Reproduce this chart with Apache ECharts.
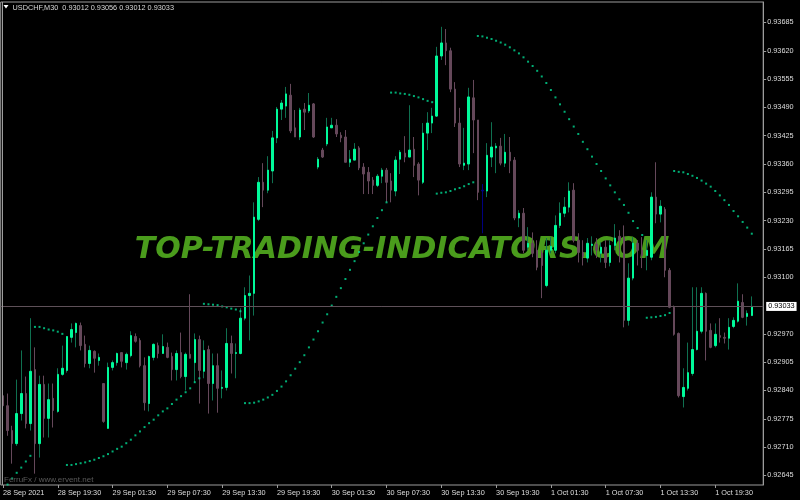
<!DOCTYPE html>
<html><head><meta charset="utf-8">
<script src="https://cdn.jsdelivr.net/npm/echarts@6/dist/echarts.min.js"></script>
<style>html,body{margin:0;padding:0;background:#000}#c{width:800px;height:500px}</style>
</head><body><div id="c"></div>
<script>
const symbolName = 'USDCHF,M30';
const lastQuote = ['0.93012', '0.93056', '0.93012', '0.93033'];
const watermark = 'TOP-TRADING-INDICATORS.COM';
const credit = 'FerruFx / www.ervent.net';
const timeTicks = ['28 Sep 2021','28 Sep 19:30','29 Sep 01:30','29 Sep 07:30','29 Sep 13:30','29 Sep 19:30','30 Sep 01:30','30 Sep 07:30','30 Sep 13:30','30 Sep 19:30','1 Oct 01:30','1 Oct 07:30','1 Oct 13:30','1 Oct 19:30'];
const priceTicks = [0.93685,0.93620,0.93555,0.93490,0.93425,0.93360,0.93295,0.93230,0.93165,0.93100,0.92970,0.92905,0.92840,0.92775,0.92710,0.92645];
const currentPrice = 0.93033;
const navyBars = [105];

const open = [0.92828,0.92805,0.92748,0.92718,0.92787,0.92833,0.92764,0.92888,0.92718,0.92854,
0.92776,0.92822,0.92792,0.92877,0.92886,0.92962,0.92973,0.92989,0.92946,0.92902,
0.92930,0.92909,0.92856,0.92753,0.92893,0.92904,0.92927,0.92904,0.92920,0.92964,
0.92955,0.92897,0.92810,0.92916,0.92943,0.92925,0.92939,0.92918,0.92888,0.92927,
0.92872,0.92923,0.92904,0.92957,0.92884,0.92934,0.92856,0.92897,0.92845,0.92847,
0.92948,0.92925,0.92925,0.93006,0.93058,0.93063,0.93233,0.93318,0.93300,0.93344,
0.93420,0.93486,0.93493,0.93518,0.93443,0.93422,0.93486,0.93482,0.93498,0.93353,
0.93392,0.93406,0.93443,0.93449,0.93426,0.93422,0.93364,0.93369,0.93397,0.93353,
0.93341,0.93323,0.93311,0.93332,0.93346,0.93321,0.93298,0.93371,0.93385,0.93376,
0.93394,0.93360,0.93318,0.93431,0.93454,0.93470,0.93608,0.93638,0.93620,0.93532,
0.93454,0.93357,0.93360,0.93512,0.93461,0.93300,0.93298,0.93376,0.93397,0.93401,
0.93362,0.93387,0.93369,0.93236,0.93247,0.93169,0.93178,0.93162,0.93155,0.93081,
0.93162,0.93162,0.93219,0.93247,0.93261,0.93300,0.93185,0.93157,0.93144,0.93173,
0.93176,0.93155,0.93169,0.93134,0.93173,0.93194,0.93192,0.93001,0.93098,0.93178,
0.93162,0.93150,0.93146,0.93284,0.93245,0.93256,0.93116,0.93031,0.92971,0.92826,
0.92845,0.92879,0.92934,0.92976,0.93063,0.92978,0.92943,0.92966,0.92962,0.92960,
0.92987,0.92999,0.93042,0.93010,0.93012];

const close = [0.92805,0.92748,0.92718,0.92787,0.92833,0.92764,0.92884,0.92718,0.92854,0.92776,
0.92819,0.92794,0.92877,0.92891,0.92964,0.92980,0.92994,0.92943,0.92902,0.92932,
0.92914,0.92916,0.92769,0.92893,0.92904,0.92925,0.92907,0.92923,0.92966,0.92953,
0.92897,0.92812,0.92918,0.92946,0.92925,0.92941,0.92916,0.92888,0.92925,0.92872,
0.92923,0.92914,0.92957,0.92886,0.92932,0.92856,0.92897,0.92845,0.92847,0.92948,
0.92925,0.92927,0.93006,0.93058,0.93063,0.93238,0.93318,0.93300,0.93346,0.93420,
0.93486,0.93500,0.93521,0.93436,0.93422,0.93484,0.93479,0.93495,0.93422,0.93371,
0.93376,0.93445,0.93449,0.93429,0.93420,0.93364,0.93371,0.93394,0.93351,0.93337,
0.93321,0.93311,0.93332,0.93346,0.93318,0.93300,0.93369,0.93387,0.93376,0.93392,
0.93357,0.93323,0.93431,0.93454,0.93470,0.93608,0.93638,0.93620,0.93532,0.93454,
0.93360,0.93362,0.93514,0.93461,0.93295,0.93298,0.93380,0.93399,0.93401,0.93362,
0.93387,0.93367,0.93236,0.93247,0.93162,0.93178,0.93155,0.93123,0.93127,0.93162,
0.93171,0.93219,0.93247,0.93261,0.93298,0.93185,0.93157,0.93148,0.93178,0.93176,
0.93162,0.93169,0.93134,0.93173,0.93190,0.93185,0.93001,0.93098,0.93178,0.93162,
0.93150,0.93162,0.93284,0.93245,0.93263,0.93116,0.93031,0.92969,0.92828,0.92847,
0.92881,0.92934,0.92976,0.93063,0.92976,0.92939,0.92969,0.92962,0.92960,0.92985,
0.93001,0.93045,0.93008,0.93017,0.93033];

const high = [0.92874,0.92833,0.92759,0.92865,0.92932,0.92872,0.93006,0.92939,0.92874,0.92874,
0.92856,0.92856,0.92891,0.92943,0.92964,0.92994,0.92996,0.92996,0.92966,0.92943,
0.92932,0.92925,0.92856,0.92904,0.92909,0.92927,0.92927,0.92927,0.92976,0.92971,
0.92960,0.92916,0.92920,0.92948,0.92950,0.92969,0.92950,0.92927,0.92932,0.92973,
0.92927,0.93061,0.92971,0.92966,0.92955,0.92943,0.92925,0.92925,0.92886,0.92983,
0.92966,0.92948,0.93029,0.93077,0.93104,0.93272,0.93330,0.93362,0.93378,0.93436,
0.93491,0.93507,0.93537,0.93544,0.93484,0.93489,0.93500,0.93523,0.93500,0.93376,
0.93397,0.93466,0.93466,0.93463,0.93433,0.93438,0.93392,0.93408,0.93401,0.93362,
0.93353,0.93330,0.93337,0.93351,0.93351,0.93339,0.93378,0.93392,0.93424,0.93495,
0.93422,0.93364,0.93454,0.93479,0.93489,0.93629,0.93675,0.93670,0.93627,0.93548,
0.93489,0.93443,0.93535,0.93553,0.93461,0.93314,0.93408,0.93456,0.93408,0.93420,
0.93429,0.93422,0.93376,0.93254,0.93259,0.93215,0.93203,0.93185,0.93162,0.93190,
0.93192,0.93242,0.93272,0.93284,0.93318,0.93316,0.93201,0.93185,0.93190,0.93194,
0.93190,0.93180,0.93185,0.93185,0.93222,0.93208,0.93219,0.93132,0.93192,0.93185,
0.93192,0.93185,0.93295,0.93364,0.93277,0.93261,0.93121,0.93035,0.92973,0.92891,
0.92950,0.93077,0.93077,0.93077,0.93065,0.92994,0.92994,0.93006,0.92973,0.93006,
0.93008,0.93086,0.93061,0.93024,0.93056];

const low = [0.92771,0.92736,0.92672,0.92713,0.92771,0.92753,0.92748,0.92649,0.92686,0.92732,
0.92732,0.92755,0.92789,0.92874,0.92881,0.92950,0.92939,0.92932,0.92893,0.92891,
0.92881,0.92897,0.92766,0.92753,0.92886,0.92897,0.92893,0.92888,0.92916,0.92950,
0.92893,0.92794,0.92792,0.92909,0.92914,0.92925,0.92914,0.92863,0.92863,0.92868,
0.92840,0.92914,0.92858,0.92810,0.92868,0.92787,0.92817,0.92789,0.92822,0.92840,
0.92879,0.92868,0.92923,0.93001,0.92955,0.93012,0.93229,0.93261,0.93293,0.93316,
0.93408,0.93461,0.93466,0.93431,0.93422,0.93415,0.93438,0.93477,0.93420,0.93348,
0.93374,0.93401,0.93443,0.93422,0.93410,0.93364,0.93353,0.93369,0.93346,0.93291,
0.93291,0.93291,0.93307,0.93316,0.93272,0.93272,0.93286,0.93337,0.93364,0.93376,
0.93330,0.93288,0.93314,0.93392,0.93431,0.93468,0.93599,0.93587,0.93525,0.93445,
0.93353,0.93346,0.93346,0.93385,0.93277,0.93201,0.93284,0.93353,0.93339,0.93357,
0.93353,0.93339,0.93231,0.93215,0.93155,0.93162,0.93146,0.93116,0.93052,0.93077,
0.93155,0.93155,0.93213,0.93238,0.93249,0.93180,0.93134,0.93127,0.93134,0.93150,
0.93144,0.93134,0.93121,0.93125,0.93162,0.93134,0.92985,0.92989,0.93093,0.93127,
0.93121,0.93116,0.93139,0.93224,0.93226,0.93100,0.93029,0.92966,0.92824,0.92801,
0.92840,0.92874,0.92932,0.92971,0.92909,0.92937,0.92939,0.92950,0.92948,0.92934,
0.92983,0.92996,0.93006,0.92989,0.93012];

const sar = [0.92610,0.92624,0.92638,0.92651,0.92663,0.92677,0.92690,
0.92986,0.92986,0.92983,0.92980,0.92978,0.92975,0.92970,
0.92669,0.92669,0.92671,0.92673,0.92675,0.92678,0.92681,0.92685,0.92689,0.92694,
0.92700,0.92706,0.92711,0.92719,0.92727,0.92737,0.92746,0.92756,0.92765,0.92773,
0.92783,0.92792,0.92799,0.92809,0.92819,0.92827,0.92836,0.92845,0.92859,0.92868,
0.93039,0.93038,0.93037,0.93036,0.93033,0.93031,0.93028,0.93026,0.93022,
0.92811,0.92811,0.92812,0.92815,0.92819,0.92824,0.92830,0.92839,0.92849,0.92861,
0.92875,0.92890,0.92905,0.92921,0.92939,0.92957,0.92976,0.92996,0.93015,0.93035,
0.93055,0.93075,0.93096,0.93117,0.93137,0.93158,0.93178,0.93198,0.93217,0.93236,
0.93254,0.93272,
0.93524,0.93524,0.93522,0.93521,0.93519,0.93516,0.93513,0.93509,0.93505,0.93502,
0.93292,0.93294,0.93295,0.93298,0.93302,0.93305,0.93309,0.93314,0.93318,
0.93654,0.93653,0.93650,0.93647,0.93643,0.93639,0.93634,0.93628,0.93621,0.93614,
0.93605,0.93595,0.93585,0.93574,0.93561,0.93546,0.93530,0.93513,0.93497,0.93480,
0.93463,0.93446,0.93429,0.93411,0.93394,0.93377,0.93360,0.93344,0.93327,0.93311,
0.93295,0.93279,0.93266,0.93248,0.93229,0.93213,0.93197,
0.93007,0.93008,0.93009,0.93011,0.93013,0.93018,
0.93344,0.93342,0.93341,0.93337,0.93333,0.93328,0.93322,0.93315,0.93308,0.93298,
0.93288,0.93277,0.93266,0.93252,0.93240,0.93227,0.93214,0.93200];

const UP_BODY = '#00fa9a', UP_WICK = '#0f7050', DOWN = '#65485a', NAVY = '#000080', DOT = '#00d992';
const slotCount = 167;
const cats = Array.from({length: slotCount}, (_, i) => String(i));
const navyStyle = {color: NAVY, color0: NAVY, borderColor: NAVY, borderColor0: NAVY};

const wickData = open.map((o, i) => {
  const v = [o, close[i], low[i], high[i]];
  return navyBars.includes(i) ? {value: v, itemStyle: navyStyle} : v;
});
const bodyData = open.map((o, i) => {
  const v = [o, close[i], Math.min(o, close[i]), Math.max(o, close[i])];
  return navyBars.includes(i) ? {value: v, itemStyle: navyStyle} : v;
});

const labelFont = 'Liberation Sans';
const chart = echarts.init(document.getElementById('c'), null, {renderer: 'canvas'});
chart.setOption({
  backgroundColor: '#000',
  animation: false,
  grid: {left: -0.8, right: 36.8, top: 2, bottom: 15, show: true, borderColor: '#9c9c9c', borderWidth: 1},
  xAxis: {
    type: 'category', data: cats, boundaryGap: true,
    axisLine: {show: false},
    axisTick: {show: true, interval: 11, alignWithLabel: true, length: 3, lineStyle: {color: '#9c9c9c'}},
    axisLabel: {interval: 11, align: 'left', color: '#dedede', fontSize: 7.3, fontFamily: labelFont, margin: 4,
      formatter: (v, idx) => (idx % 12 === 0 && timeTicks[idx / 12]) ? timeTicks[idx / 12] : ''},
    splitLine: {show: false}
  },
  yAxis: {
    type: 'value', position: 'right', min: 0.92623, max: 0.93732,
    axisLine: {show: true, lineStyle: {color: '#9c9c9c'}},
    axisTick: {show: true, length: 3, customValues: priceTicks, lineStyle: {color: '#9c9c9c'}},
    axisLabel: {customValues: priceTicks, formatter: v => v.toFixed(5), color: '#dedede', fontSize: 7.3, fontFamily: labelFont, margin: 4},
    splitLine: {show: false}
  },
  graphic: [
    {type: 'text', z: 0, silent: true, style: {text: watermark, x: 402, y: 250, align: 'center', verticalAlign: 'middle',
      font: 'italic bold 30px "DejaVu Sans"', fill: '#4a9c1c'}},
    {type: 'polygon', z: 10, shape: {points: [[3.5, 5], [8.5, 5], [6, 8.5]]}, style: {fill: '#ffffff'}},
    {type: 'text', z: 10, style: {text: symbolName + '  ' + lastQuote.join(' '), x: 12.5, y: 7.5, verticalAlign: 'middle',
      font: '7.3px "Liberation Sans"', fill: '#d8d8d8'}},
    {type: 'text', z: 10, style: {text: credit, x: 4, y: 480, verticalAlign: 'middle', font: '8px "Liberation Sans"', fill: '#5a5a5a'}},
    {type: 'line', z: 10, shape: {x1: 2.5, y1: 2, x2: 2.5, y2: 485}, style: {stroke: '#9c9c9c', lineWidth: 1}}
  ],
  series: [
    {type: 'line', name: 'bid', z: 1, data: [], silent: true,
      markLine: {silent: true, symbol: ['none', 'none'], animation: false, precision: 5,
        lineStyle: {color: '#5e5058', width: 1, type: 'solid'},
        label: {show: true, position: 'end', formatter: () => currentPrice.toFixed(5), backgroundColor: '#ffffff', color: '#000',
          padding: [1, 2, 1, 2], fontSize: 7.3, fontFamily: labelFont, distance: 3},
        data: [{yAxis: currentPrice}]}
    },
    {type: 'candlestick', name: 'wick', z: 2, data: wickData, barWidth: 1,
      itemStyle: {color: UP_WICK, color0: DOWN, borderColor: UP_WICK, borderColor0: DOWN, borderWidth: 1}},
    {type: 'candlestick', name: 'body', z: 3, data: bodyData, barWidth: 2,
      itemStyle: {color: UP_BODY, color0: DOWN, borderColor: UP_BODY, borderColor0: DOWN, borderWidth: 1}},
    {type: 'scatter', name: 'sar', z: 4, data: sar, symbol: 'rect', symbolSize: 2, itemStyle: {color: DOT}}
  ]
});
</script></body></html>
